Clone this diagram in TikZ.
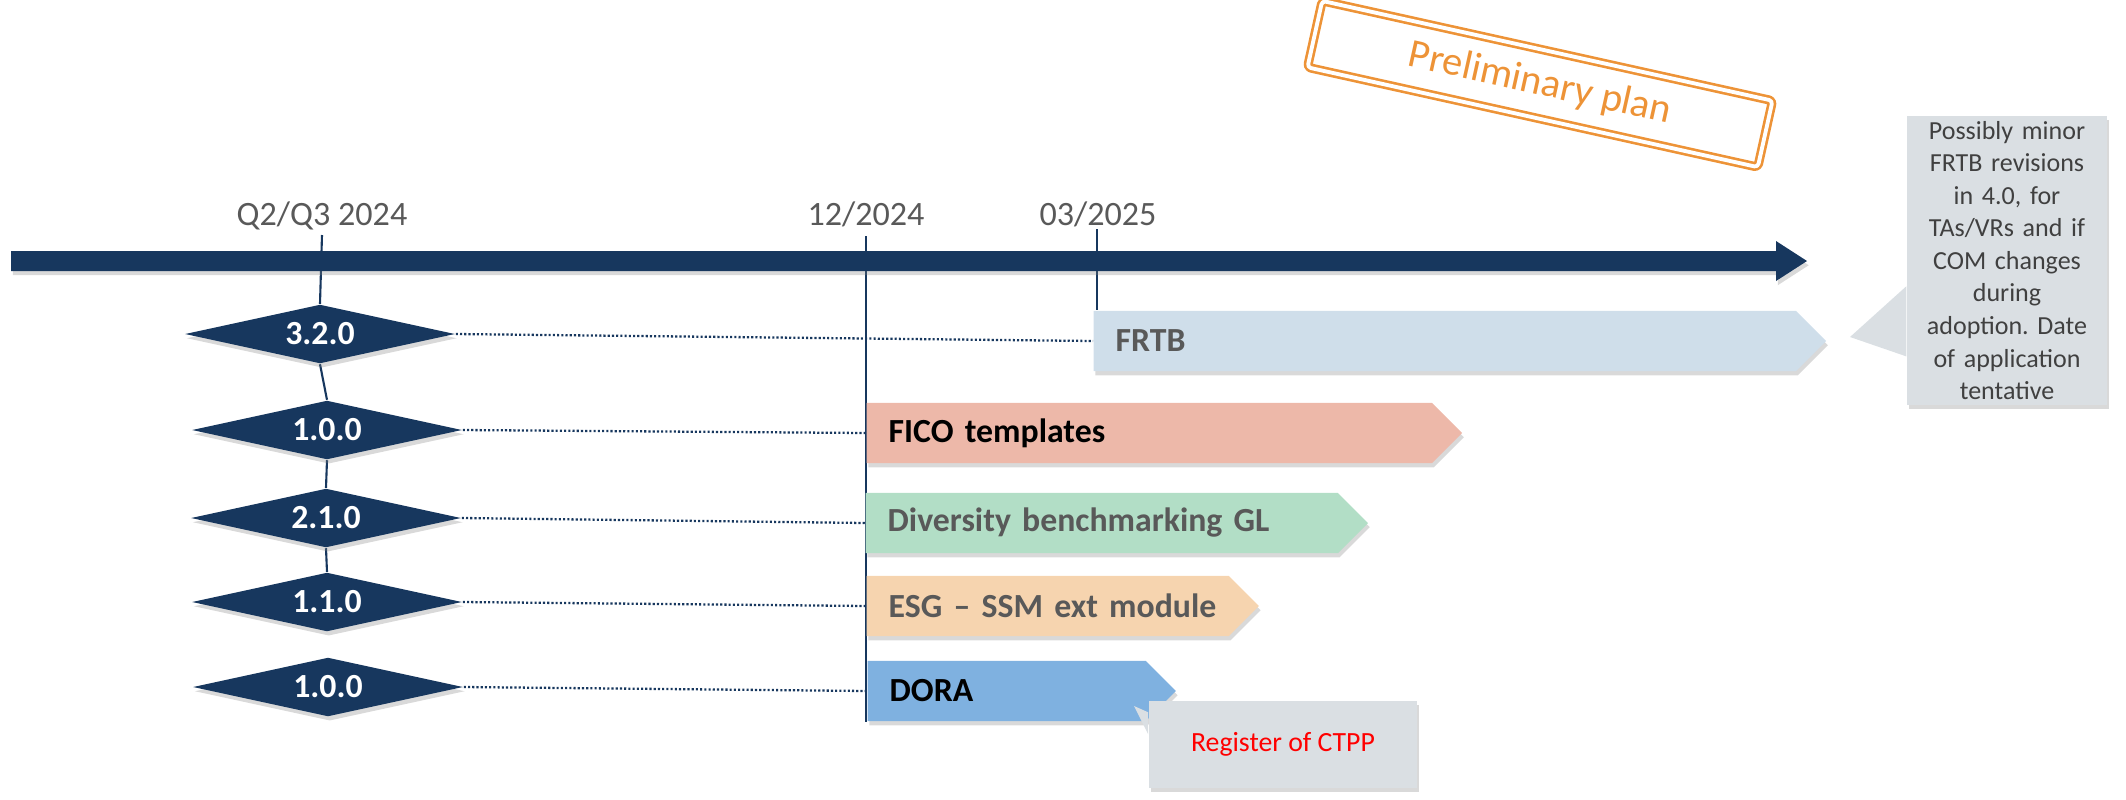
\documentclass[tikz,border=0pt]{standalone}
\usepackage{fontspec}
\setmainfont{Carlito}
\usetikzlibrary{shapes.geometric,shapes.symbols,shadows}
\pgfdeclarelayer{back}
\pgfsetlayers{back,main}
\frenchspacing
\definecolor{navy}{RGB}{23,55,94}
\definecolor{txtgray}{RGB}{89,89,89}
\definecolor{notetxt}{RGB}{64,64,64}
\definecolor{notegray}{RGB}{218,223,227}
\definecolor{frtbblue}{RGB}{207,222,234}
\definecolor{ficored}{RGB}{237,184,169}
\definecolor{divgreen}{RGB}{178,222,198}
\definecolor{esgpeach}{RGB}{246,212,175}
\definecolor{dorablue}{RGB}{127,177,224}
\definecolor{stamporange}{RGB}{237,147,55}
\tikzset{
  shade/.style={drop shadow={opacity=0.3,shadow xshift=0.5pt,shadow yshift=-1.2pt}},
  version/.style={diamond,fill=navy,aspect=4.6,minimum width=2.7cm,minimum height=0.59cm,
    inner sep=0pt,text=white,font=\fontsize{9.6}{11}\selectfont\bfseries,shade},
  task/.style={signal,signal to=east,signal from=nowhere,signal pointer angle=90,fill=#1,
    minimum height=0.6cm,inner xsep=0.22cm,inner ysep=0pt,align=left,anchor=west,
    font=\fontsize{9.6}{11}\selectfont\bfseries,shade},
  datelbl/.style={anchor=base,text=txtgray,font=\fontsize{9.7}{11}\selectfont},
  tick/.style={navy,line width=0.6pt},
  link/.style={navy,line width=0.65pt,dash pattern=on 0.6pt off 0.6pt},
  note/.style={fill=notegray,inner sep=0pt,shade},
  stamp/.style={draw=stamporange,double=white,double distance=1.1pt,line width=0.75pt,
    rounded corners=1pt,minimum width=4.61cm,minimum height=0.68cm,rotate=-12.5,
    text=stamporange,font=\fontsize{11.5}{13}\selectfont}
}
\begin{document}
\begin{tikzpicture}[x=0.01cm,y=-0.01cm,line join=round]
\useasboundingbox (0,0) rectangle (2126,799);

% time axis
\fill[navy,shade] (11,251)--(1776,251)--(1776,241)--(1807,261)--(1776,281)--(1776,271)--(11,271)--cycle;
\node[datelbl] (q23) at (322,225) {Q2/Q3 2024};
\node[datelbl] (d1224) at (866,225) {12/2024};
\node[datelbl] (d0325) at (1098,225) {03/2025};
\coordinate (t1) at (322,235);
\coordinate (t2) at (866,236);
\coordinate (t3) at (1097,229);

% versions
\node[version] (v1) at (320,334) {3.2.0};
\node[version] (v2) at (327,430) {1.0.0};
\node[version] (v3) at (326,518) {2.1.0};
\node[version] (v4) at (327,602) {1.1.0};
\node[version] (v5) at (328,687) {1.0.0};

% work items
\node[task=frtbblue,text=txtgray,text width=6.58cm] (frtb) at (1093,341) {FRTB};
\node[task=ficored,text=black,text width=5.21cm] (fico) at (866,433) {FICO templates};
\node[task=divgreen,text=txtgray,text width=4.28cm] (div) at (865,523) {Diversity benchmarking GL};
\node[task=esgpeach,text=txtgray,text width=3.18cm] (esg) at (866,606) {\mbox{ESG -- SSM ext module}};
\node[task=dorablue,text=black,text width=2.34cm] (dora) at (867,691) {DORA};

\begin{pgfonlayer}{back}
\draw[tick] (t1)--(v1.north) (v1.south)--(v2.north) (v2.south)--(v3.north) (v3.south)--(v4.north);
\draw[tick] (t2)--(t2 |- dora.south);
\draw[tick] (t3)--(t3 |- frtb.north);
\draw[link] (v1.east)--(frtb.west);
\draw[link] (v2.east)--(fico.west);
\draw[link] (v3.east)--(div.west);
\draw[link] (v4.east)--(esg.west);
\draw[link] (v5.east)--(dora.west);
\end{pgfonlayer}

% notes
\node[note,minimum width=2cm,minimum height=2.89cm,text width=2cm,align=center,text=notetxt,
  font=\fontsize{7.4}{9.25}\selectfont] (frtbnote) at (2007,260.5)
  {Possibly minor\\FRTB revisions\\in 4.0, for\\TAs/VRs and if\\COM changes\\during\\adoption. Date\\of application\\tentative};
\coordinate (frtbtip) at (1850,337);
\fill[notegray] ([yshift=-1.71cm]frtbnote.north west)--(frtbtip)--([yshift=-2.41cm]frtbnote.north west)--cycle;

\node[note,minimum width=2.68cm,minimum height=0.87cm,text=red,
  font=\fontsize{7.9}{9}\selectfont] (ctppnote) at (1283,744.5) {Register of CTPP};
\coordinate (ctpptip) at (1134,706);
\fill[notegray] ([yshift=-0.12cm]ctppnote.north west)--(ctpptip)--([yshift=-0.34cm]ctppnote.north west)--cycle;

\node[stamp] (prelim) at (1540,84) {Preliminary plan};
\end{tikzpicture}
\end{document}
